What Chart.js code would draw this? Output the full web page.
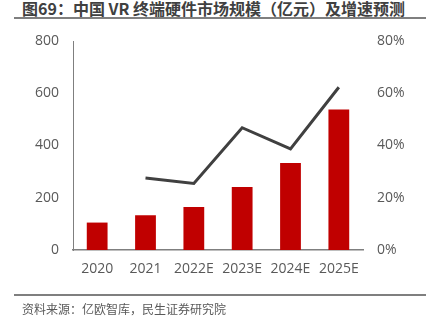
<!DOCTYPE html>
<html>
<head>
<meta charset="utf-8">
<script src="https://cdn.jsdelivr.net/npm/chart.js@4"></script>
<style>
  body { margin: 0; background: #fff; width: 433px; height: 322px; position: relative; overflow: hidden; }
  .title { position: absolute; left: 22px; top: -1px; font: bold 16px "Noto Sans CJK SC", sans-serif; color: #404040; line-height: 18px; white-space: nowrap; }
  .rule { position: absolute; left: 14px; width: 412px; height: 2px; background: #7f7f7f; }
  .source { position: absolute; left: 22px; top: 300px; font: 12px "Noto Sans CJK SC", sans-serif; color: #595959; }
  #wrap { position: absolute; left: 0; top: 0; width: 433px; height: 322px; }
</style>
</head>
<body>
<div class="title">图69：中国 VR 终端硬件市场规模（亿元）及增速预测</div>
<div class="rule" style="top:17px"></div>
<div id="wrap"><canvas id="chart" width="433" height="322"></canvas></div>
<div class="rule" style="top:294px"></div>
<div class="source">资料来源：亿欧智库，民生证券研究院</div>
<script>
const years = ['2020', '2021', '2022E', '2023E', '2024E', '2025E'];
const marketSize = [105, 133, 165, 241, 333, 538];
const growthRate = [null, 27.6, 25.5, 46.8, 38.7, 62.3];

const tickFont = { family: '"Open Sans", "Noto Sans", sans-serif', size: 14 };
const tickColor = '#595959';

new Chart(document.getElementById('chart'), {
  type: 'bar',
  data: {
    labels: years,
    datasets: [
      {
        type: 'line',
        label: '增速',
        data: growthRate,
        yAxisID: 'y1',
        borderColor: '#404040',
        borderWidth: 3,
        pointRadius: 0,
        tension: 0,
        order: 0
      },
      {
        label: '市场规模',
        data: marketSize,
        yAxisID: 'y',
        backgroundColor: '#C00000',
        categoryPercentage: 1,
        barPercentage: 0.43,
        order: 1
      }
    ]
  },
  options: {
    responsive: false,
    animation: false,
    layout: { padding: { left: 0, right: 0, top: 41, bottom: 0 } },
    plugins: { legend: { display: false }, tooltip: { enabled: false } },
    scales: {
      x: {
        grid: { display: false, drawTicks: false },
        border: { color: '#7f7f7f', width: 1.5 },
        ticks: { color: tickColor, font: tickFont, padding: 11 },
        afterFit: (scale) => { scale.height = 72; }
      },
      y: {
        position: 'left',
        min: 0, max: 800,
        grid: { display: false, drawTicks: false },
        border: { color: '#7f7f7f', width: 1 },
        ticks: { stepSize: 200, color: tickColor, font: tickFont, padding: 14 },
        afterFit: (scale) => { scale.width = 73; }
      },
      y1: {
        position: 'right',
        min: 0, max: 80,
        grid: { display: false, drawTicks: false },
        border: { display: false },
        ticks: { stepSize: 20, color: tickColor, font: tickFont, padding: 14, callback: (v) => v + '%' },
        afterFit: (scale) => { scale.width = 70; }
      }
    }
  }
});
</script>
</body>
</html>
